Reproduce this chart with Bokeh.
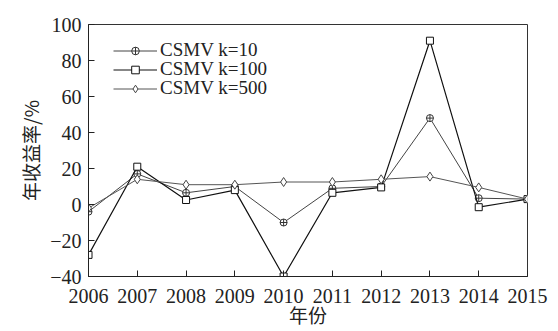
from bokeh.plotting import figure
from bokeh.models import Legend, LegendItem, FixedTicker
from bokeh.embed import file_html
from bokeh.resources import INLINE

years = [2006, 2007, 2008, 2009, 2010, 2011, 2012, 2013, 2014, 2015]
k10 = [-4, 17, 6.5, 10, -10, 9, 10, 48, 3.5, 3]
k100 = [-28, 21, 2.5, 8, -40, 6.5, 9.5, 91, -1.5, 3]
k500 = [-2, 14, 11, 11, 12.5, 12.5, 14, 15.5, 9.5, 3]
y_ticks = [-40, -20, 0, 20, 40, 60, 80, 100]
labels = ["CSMV k=10", "CSMV k=100", "CSMV k=500"]

SERIF = "Liberation Serif"

p = figure(width=550, height=331, output_backend="svg", toolbar_location=None,
           x_range=(2006, 2015), y_range=(-40, 100),
           min_border_left=88, min_border_right=23, min_border_top=24, min_border_bottom=55)
p.xgrid.visible = False
p.ygrid.visible = False
p.outline_line_color = "#333333"
p.outline_line_width = 1

for ax in (p.xaxis[0], p.yaxis[0]):
    ax.major_tick_in = 6
    ax.major_tick_out = 0
    ax.minor_tick_line_color = None
    ax.axis_line_color = "#222222"
    ax.major_tick_line_color = "#222222"
    ax.major_label_text_font = SERIF
    ax.major_label_text_font_size = "20px"
    ax.major_label_text_color = "#222222"
    ax.axis_label_text_font = "Noto Sans CJK SC"
    ax.axis_label_text_font_size = "19px"
    ax.axis_label_text_font_style = "normal"
    ax.axis_label_text_color = "#222222"

p.xaxis.ticker = FixedTicker(ticks=years)
p.yaxis.ticker = FixedTicker(ticks=y_ticks)
p.xaxis.major_label_standoff = 12
p.yaxis.major_label_standoff = 7
p.xaxis.axis_label = "年份"
p.yaxis.axis_label = "年收益率/%"
p.xaxis.axis_label_standoff = -5
p.yaxis.axis_label_standoff = 3

l1 = p.line(years, k10, line_color="#444444", line_width=1)
m1 = p.scatter(years, k10, marker="circle_cross", size=7, fill_color="white", line_color="#333333")
l2 = p.line(years, k100, line_color="#111111", line_width=1.2)
m2 = p.scatter(years, k100, marker="square", size=7, fill_color="white", line_color="#111111")
l3 = p.line(years, k500, line_color="#555555", line_width=1)
m3 = p.scatter(years, k500, marker="diamond", size=9, fill_color="white", line_color="#444444")

rends = [[l1, m1], [l2, m2], [l3, m3]]
ys = [215, 196, 177]
for lab, r, yy in zip(labels, rends, ys):
    lg = Legend(items=[LegendItem(label=lab, renderers=r)],
                location=(25, yy), margin=0, padding=0, spacing=0,
                glyph_width=44, glyph_height=19, label_height=19, label_standoff=3,
                label_text_font=SERIF, label_text_font_size="19px",
                label_text_color="#222222",
                background_fill_alpha=0, border_line_color=None)
    p.add_layout(lg)

open("out.html", "w").write(file_html(p, INLINE))
